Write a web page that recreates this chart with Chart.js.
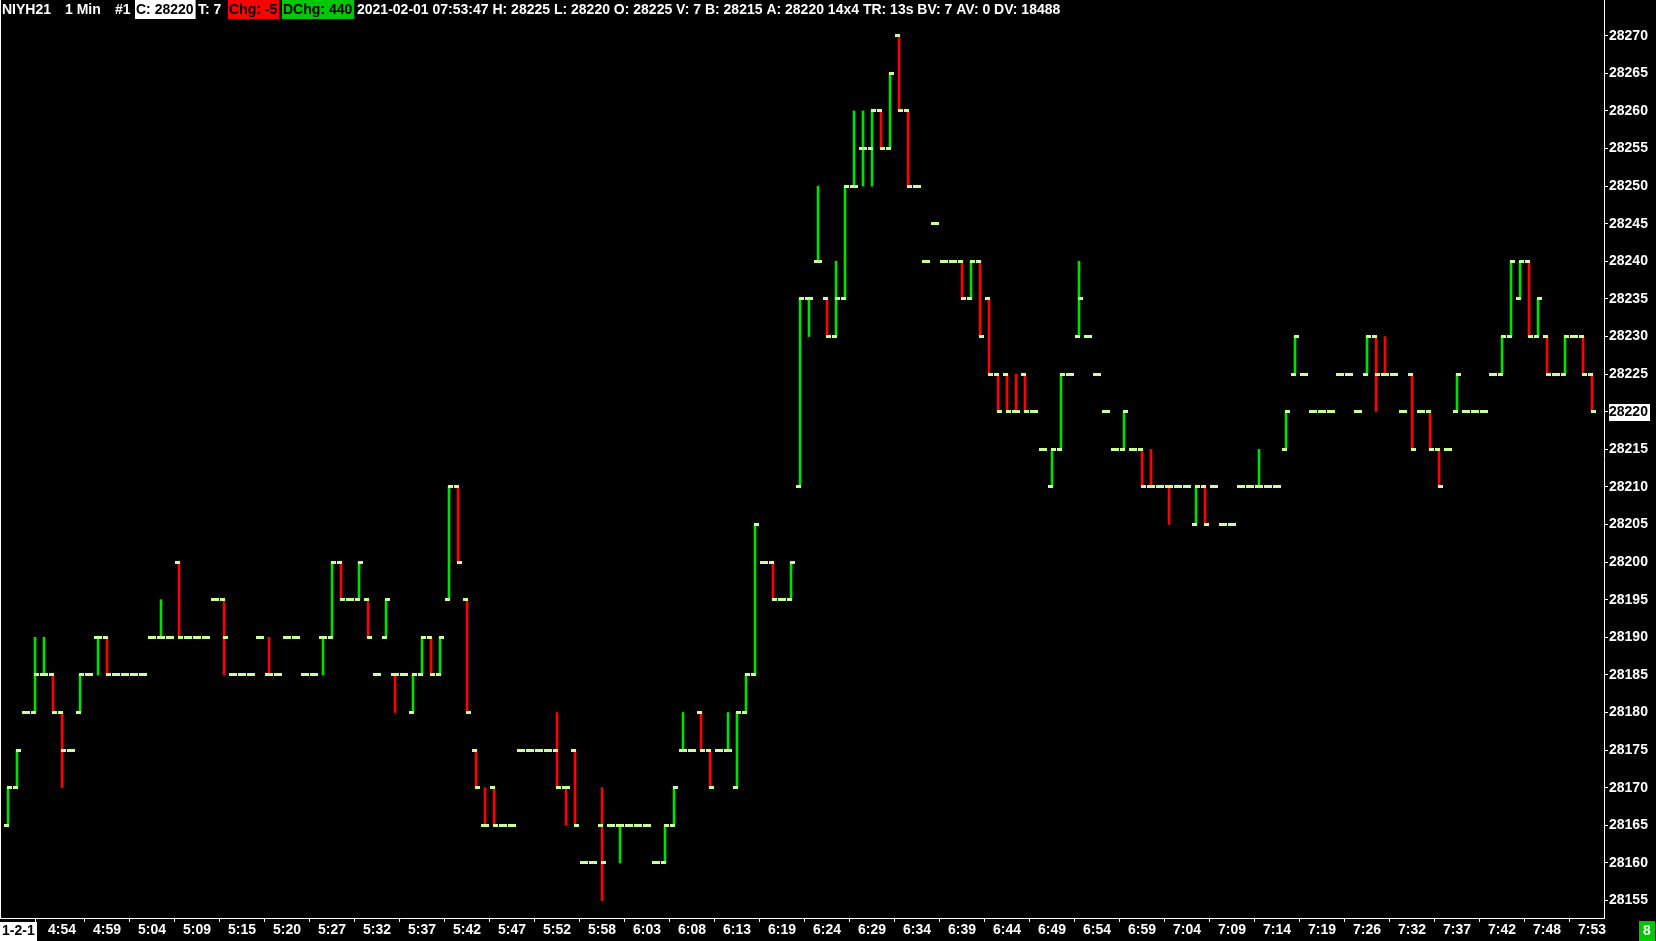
<!DOCTYPE html>
<html>
<head>
<meta charset="utf-8">
<title>NIYH21 1 Min</title>
<script src="https://cdn.jsdelivr.net/npm/chart.js@4.4.1/dist/chart.umd.min.js"></script>
<style>
    html, body { margin: 0; padding: 0; background: #000; }
    #wrap { position: relative; width: 1656px; height: 941px; }
</style>
</head>
<body>
<div id="wrap"><canvas id="priceChart"></canvas></div>
<script>
// NIYH21 - 1 minute OHLC bars, one entry per bar (bars without trades are skipped)
const opens = [
    28165, 28170, 28180, 28180, 28185, 28185, 28180, 28175, 28180, 28185,
    28190, 28190, 28185, 28185, 28185, 28185, 28190, 28190, 28190, 28200,
    28190, 28190, 28190, 28195, 28195, 28185, 28185, 28185, 28190, 28185,
    28185, 28190, 28190, 28185, 28185, 28190, 28190, 28200, 28195, 28195,
    28195, 28185, 28190, 28185, 28185, 28180, 28185, 28190, 28185, 28195,
    28210, 28195, 28175, 28165, 28170, 28165, 28165, 28175, 28175, 28175,
    28175, 28175, 28170, 28175, 28160, 28160, 28165, 28165, 28165, 28165,
    28165, 28165, 28160, 28160, 28165, 28175, 28175, 28180, 28175, 28175,
    28175, 28170, 28180, 28185, 28200, 28200, 28195, 28195, 28210, 28235,
    28240, 28235, 28230, 28235, 28250, 28255, 28255, 28260, 28255, 28270,
    28260, 28250, 28240, 28245, 28240, 28240, 28240, 28235, 28240, 28235,
    28225, 28225, 28220, 28225, 28220, 28215, 28210, 28215, 28225, 28230,
    28230, 28225, 28220, 28215, 28215, 28215, 28215, 28210, 28210, 28210,
    28210, 28210, 28205, 28210, 28210, 28205, 28205, 28210, 28210, 28210,
    28210, 28210, 28215, 28225, 28225, 28220, 28220, 28220, 28225, 28225,
    28220, 28225, 28230, 28225, 28225, 28220, 28225, 28220, 28220, 28215,
    28215, 28220, 28220, 28220, 28220, 28225, 28225, 28230, 28235, 28240,
    28230, 28230, 28225, 28225, 28230, 28230, 28225
];
const highs = [
    28170, 28175, 28180, 28190, 28190, 28185, 28180, 28175, 28185, 28185,
    28190, 28190, 28185, 28185, 28185, 28185, 28190, 28195, 28190, 28200,
    28190, 28190, 28190, 28195, 28195, 28185, 28185, 28185, 28190, 28190,
    28185, 28190, 28190, 28185, 28185, 28190, 28200, 28200, 28195, 28200,
    28195, 28185, 28195, 28185, 28185, 28185, 28190, 28190, 28190, 28210,
    28210, 28195, 28175, 28170, 28170, 28165, 28165, 28175, 28175, 28175,
    28175, 28180, 28170, 28175, 28160, 28160, 28170, 28165, 28165, 28165,
    28165, 28165, 28160, 28165, 28170, 28180, 28175, 28180, 28175, 28175,
    28180, 28180, 28185, 28205, 28200, 28200, 28195, 28200, 28235, 28235,
    28250, 28235, 28240, 28250, 28260, 28260, 28260, 28260, 28265, 28270,
    28260, 28250, 28240, 28245, 28240, 28240, 28240, 28240, 28240, 28235,
    28225, 28225, 28225, 28225, 28220, 28215, 28215, 28225, 28225, 28240,
    28230, 28225, 28220, 28215, 28220, 28215, 28215, 28215, 28210, 28210,
    28210, 28210, 28210, 28210, 28210, 28205, 28205, 28210, 28210, 28215,
    28210, 28210, 28220, 28230, 28225, 28220, 28220, 28220, 28225, 28225,
    28220, 28230, 28230, 28230, 28225, 28220, 28225, 28220, 28220, 28215,
    28215, 28225, 28220, 28220, 28220, 28225, 28230, 28240, 28240, 28240,
    28235, 28230, 28225, 28230, 28230, 28230, 28225
];
const lows = [
    28165, 28170, 28180, 28180, 28185, 28180, 28170, 28175, 28180, 28185,
    28185, 28185, 28185, 28185, 28185, 28185, 28190, 28190, 28190, 28190,
    28190, 28190, 28190, 28195, 28185, 28185, 28185, 28185, 28190, 28185,
    28185, 28190, 28190, 28185, 28185, 28185, 28190, 28195, 28195, 28195,
    28190, 28185, 28190, 28180, 28185, 28180, 28185, 28185, 28185, 28195,
    28200, 28180, 28170, 28165, 28165, 28165, 28165, 28175, 28175, 28175,
    28175, 28170, 28165, 28165, 28160, 28160, 28155, 28165, 28160, 28165,
    28165, 28165, 28160, 28160, 28165, 28175, 28175, 28175, 28170, 28175,
    28175, 28170, 28180, 28185, 28200, 28195, 28195, 28195, 28210, 28230,
    28240, 28230, 28230, 28235, 28250, 28250, 28250, 28255, 28255, 28260,
    28250, 28250, 28240, 28245, 28240, 28240, 28235, 28235, 28230, 28225,
    28220, 28220, 28220, 28220, 28220, 28215, 28210, 28215, 28225, 28230,
    28230, 28225, 28220, 28215, 28215, 28215, 28210, 28210, 28210, 28205,
    28210, 28210, 28205, 28205, 28210, 28205, 28205, 28210, 28210, 28210,
    28210, 28210, 28215, 28225, 28225, 28220, 28220, 28220, 28225, 28225,
    28220, 28225, 28220, 28225, 28225, 28220, 28215, 28220, 28215, 28210,
    28215, 28220, 28220, 28220, 28220, 28225, 28225, 28230, 28235, 28230,
    28230, 28225, 28225, 28225, 28230, 28225, 28220
];
const closes = [
    28170, 28175, 28180, 28185, 28185, 28180, 28175, 28175, 28185, 28185,
    28190, 28185, 28185, 28185, 28185, 28185, 28190, 28190, 28190, 28190,
    28190, 28190, 28190, 28195, 28190, 28185, 28185, 28185, 28190, 28185,
    28185, 28190, 28190, 28185, 28185, 28190, 28200, 28195, 28195, 28200,
    28190, 28185, 28195, 28185, 28185, 28185, 28190, 28185, 28190, 28210,
    28200, 28180, 28170, 28165, 28165, 28165, 28165, 28175, 28175, 28175,
    28175, 28170, 28170, 28165, 28160, 28160, 28160, 28165, 28165, 28165,
    28165, 28165, 28160, 28165, 28170, 28175, 28175, 28175, 28170, 28175,
    28175, 28180, 28185, 28205, 28200, 28195, 28195, 28200, 28235, 28235,
    28240, 28230, 28235, 28250, 28250, 28255, 28260, 28255, 28265, 28260,
    28250, 28250, 28240, 28245, 28240, 28240, 28235, 28240, 28230, 28225,
    28220, 28220, 28220, 28220, 28220, 28215, 28215, 28225, 28225, 28235,
    28230, 28225, 28220, 28215, 28220, 28215, 28210, 28210, 28210, 28210,
    28210, 28210, 28210, 28205, 28210, 28205, 28205, 28210, 28210, 28210,
    28210, 28210, 28220, 28230, 28225, 28220, 28220, 28220, 28225, 28225,
    28220, 28230, 28225, 28225, 28225, 28220, 28215, 28220, 28215, 28210,
    28215, 28225, 28220, 28220, 28220, 28225, 28230, 28240, 28240, 28230,
    28235, 28225, 28225, 28230, 28230, 28225, 28220
];

// axis labels
const priceTicks = [
    28155, 28160, 28165, 28170, 28175, 28180, 28185, 28190, 28195, 28200, 28205, 28210,
    28215, 28220, 28225, 28230, 28235, 28240, 28245, 28250, 28255, 28260, 28265, 28270
];
const timeLabels = [
    '4:54', '4:59', '5:04', '5:09', '5:15', '5:20', '5:27', '5:32', '5:37', '5:42', '5:47', '5:52',
    '5:58', '6:03', '6:08', '6:13', '6:19', '6:24', '6:29', '6:34', '6:39', '6:44', '6:49', '6:54',
    '6:59', '7:04', '7:09', '7:14', '7:19', '7:26', '7:32', '7:37', '7:42', '7:48', '7:53'
];
const dateLabel = '1-2-1';
const firstLabelBar = 6;
const labelEvery = 5;

// header values
const symbol = 'NIYH21';
const barPeriod = '1 Min';
const chartNumber = '#1';
const lastTrades = 7;
const dayChange = 440;
const lastStamp = '2021-02-01 07:53:47';
const lastVolume = 7;
const bidPrice = 28215;
const askPrice = 28220;
const bookSize = '14x4';
const timeRemaining = '13s';
const bidVolume = 7;
const askVolume = 0;
const dayVolume = 18488;
const cornerCount = 8;

const FONT_FAMILY = '"Liberation Sans", Arial, sans-serif';
const FONT = 'bold 14px ' + FONT_FAMILY;
const UP_COLOR = '#00e000';
const DOWN_COLOR = '#ff0000';
const TICK_COLOR = '#c8ff96';

const last = closes.length - 1;
const lastClose = closes[last];

// up / down colour: close vs open, then close vs previous close, else keep previous colour
function barColors() {
    const out = [];
    let up = true;
    for (let k = 0; k < closes.length; k++) {
        const prev = k > 0 ? closes[k - 1] : opens[k];
        if (closes[k] > opens[k]) up = true;
        else if (closes[k] < opens[k]) up = false;
        else if (closes[k] > prev) up = true;
        else if (closes[k] < prev) up = false;
        out.push(up ? UP_COLOR : DOWN_COLOR);
    }
    return out;
}

// open tick sits left of the bar, close tick right of it
function makeTick(side) {
    const c = document.createElement('canvas');
    c.width = 10;
    c.height = 3;
    const g = c.getContext('2d');
    g.fillStyle = TICK_COLOR;
    g.fillRect(side === 'open' ? 1 : 4, 0, 5, 3);
    return c;
}

function drawBox(ctx, text, x, bg, fg) {
    ctx.font = FONT;
    const w = ctx.measureText(text).width;
    if (bg) {
        ctx.fillStyle = bg;
        ctx.fillRect(x - 1, 0, w + 3, 19);
    }
    ctx.fillStyle = fg;
    ctx.fillText(text, x, 10);
}

// no label overhang padding, the plot runs edge to edge like the original
function noPadding(scale) {
    scale.paddingTop = 0;
    scale.paddingBottom = 0;
    scale.paddingLeft = 0;
    scale.paddingRight = 0;
}

const chromePlugin = {
    id: 'chrome',
    beforeDraw(chart) {
        const ctx = chart.ctx;
        ctx.save();
        ctx.fillStyle = '#000';
        ctx.fillRect(0, 0, chart.width, chart.height);
        // last price marker behind the axis label
        const y = chart.scales.y.getPixelForValue(lastClose);
        ctx.fillStyle = '#fff';
        ctx.fillRect(chart.chartArea.right + 5, Math.round(y) - 8, 41, 17);
        ctx.restore();
    },
    afterDraw(chart) {
        const ctx = chart.ctx;
        const area = chart.chartArea;
        ctx.save();
        ctx.fillStyle = '#fff';
        ctx.fillRect(0, 0, 1, area.bottom);

        ctx.textBaseline = 'middle';
        ctx.textAlign = 'left';
        const chg = closes[last] - closes[last - 1];
        drawBox(ctx, symbol, 2, null, '#fff');
        drawBox(ctx, barPeriod, 65, null, '#fff');
        drawBox(ctx, chartNumber, 115, null, '#fff');
        drawBox(ctx, 'C: ' + lastClose, 136, '#fff', '#000');
        drawBox(ctx, 'T: ' + lastTrades, 198, null, '#fff');
        drawBox(ctx, 'Chg: ' + chg, 229, DOWN_COLOR, '#000');
        drawBox(ctx, 'DChg: ' + dayChange, 283, '#00c800', '#000');
        drawBox(ctx, lastStamp + ' H: ' + highs[last] + ' L: ' + lows[last] + ' O: ' + opens[last] +
            ' V: ' + lastVolume + ' B: ' + bidPrice + ' A: ' + askPrice + ' ' + bookSize +
            ' TR: ' + timeRemaining + ' BV: ' + bidVolume + ' AV: ' + askVolume + ' DV: ' + dayVolume,
            357, null, '#fff');

        // date stamp under the first bar
        ctx.fillStyle = '#fff';
        ctx.fillRect(0, area.bottom + 4, 37, 19);
        ctx.fillStyle = '#000';
        ctx.fillText(dateLabel, 2, area.bottom + 13);

        // bottom right counter
        ctx.fillStyle = '#00c800';
        ctx.fillRect(1639, area.bottom + 3, 16, 20);
        ctx.fillStyle = '#fff';
        ctx.textAlign = 'center';
        ctx.fillText(String(cornerCount), 1647, area.bottom + 13);
        ctx.restore();
    }
};

const tickBars = [0].concat(timeLabels.map((_, i) => firstLabelBar + i * labelEvery));
const tickFont = { family: FONT_FAMILY, size: 14, weight: 'bold' };

const chart = new Chart(document.getElementById('priceChart'), {
    type: 'bar',
    data: {
        datasets: [
            {
                type: 'scatter',
                label: 'open',
                data: opens.map((o, k) => ({ x: k, y: o })),
                pointStyle: makeTick('open'),
                pointRadius: 3,
                order: 0
            },
            {
                type: 'scatter',
                label: 'close',
                data: closes.map((c, k) => ({ x: k, y: c })),
                pointStyle: makeTick('close'),
                pointRadius: 3,
                order: 0
            },
            {
                type: 'bar',
                label: 'range',
                data: highs.map((h, k) => ({ x: k, y: [lows[k], h] })),
                backgroundColor: barColors(),
                borderWidth: 0,
                barThickness: 2,
                order: 1
            }
        ]
    },
    options: {
        responsive: true,
        maintainAspectRatio: false,
        animation: false,
        events: [],
        layout: { padding: 0, autoPadding: false },
        plugins: {
            legend: { display: false },
            tooltip: { enabled: false }
        },
        scales: {
            x: {
                type: 'linear',
                min: -8 / 9,
                max: 177 + 1 / 3,
                offset: false,
                afterBuildTicks: (scale) => { scale.ticks = tickBars.map(v => ({ value: v })); },
                afterFit: (scale) => { scale.height = 23; noPadding(scale); },
                border: { display: true, color: '#fff', width: 1 },
                grid: { display: true, drawOnChartArea: false, drawTicks: true, tickLength: 4, color: '#fff' },
                ticks: {
                    autoSkip: false,
                    maxRotation: 0,
                    minRotation: 0,
                    padding: 0,
                    color: '#fff',
                    font: tickFont,
                    callback: (value) => {
                        const i = (value - firstLabelBar) / labelEvery;
                        return value < firstLabelBar ? '' : timeLabels[i];
                    }
                }
            },
            y: {
                type: 'linear',
                position: 'right',
                min: 28152.67,
                max: 28274.75,
                beginAtZero: false,
                afterBuildTicks: (scale) => { scale.ticks = priceTicks.map(v => ({ value: v })); },
                afterFit: (scale) => { scale.width = 52; noPadding(scale); },
                border: { display: true, color: '#fff', width: 1 },
                grid: { display: true, drawOnChartArea: false, drawTicks: true, tickLength: 4, color: '#fff' },
                ticks: {
                    autoSkip: false,
                    padding: 1,
                    font: tickFont,
                    color: (ctx) => (ctx.tick && ctx.tick.value === lastClose ? '#000' : '#fff'),
                    callback: (value) => String(value)
                }
            }
        }
    },
    plugins: [chromePlugin]
});
</script>
</body>
</html>
